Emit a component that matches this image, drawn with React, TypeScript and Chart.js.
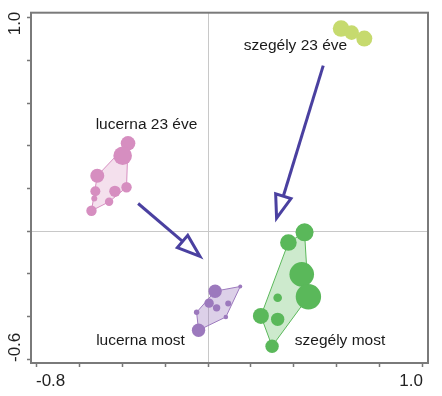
import React, { useEffect, useRef } from 'react';
import { Chart, registerables } from 'chart.js';

Chart.register(...registerables);

// ---- data (ordination scores) ----
const groupNames = ['lucerna 23 éve', 'lucerna most', 'szegély most', 'szegély 23 éve'];

const lucerna23X = [-0.372, -0.397, -0.515, -0.524, -0.529, -0.433, -0.379, -0.460, -0.542];
const lucerna23Y = [0.411, 0.353, 0.259, 0.186, 0.153, 0.186, 0.205, 0.137, 0.095];
const lucerna23R = [7.3, 9.3, 7, 5, 3, 5.7, 5.2, 4.2, 5.2];

const lucernaMostX = [0.033, 0.005, 0.040, 0.094, 0.150, -0.053, 0.083, -0.044];
const lucernaMostY = [-0.282, -0.338, -0.360, -0.340, -0.260, -0.381, -0.403, -0.465];
const lucernaMostR = [6.7, 4.7, 3.7, 3, 2, 2.7, 2.3, 6.7];

const szegelyMostX = [0.449, 0.374, 0.436, 0.467, 0.324, 0.246, 0.324, 0.298];
const szegelyMostY = [-0.006, -0.054, -0.203, -0.308, -0.313, -0.398, -0.414, -0.540];
const szegelyMostR = [9, 8.3, 12.3, 12.7, 4.3, 8, 6.7, 6.7];

const szegely23X = [0.619, 0.668, 0.727];
const szegely23Y = [0.949, 0.930, 0.902];
const szegely23R = [8.3, 7.3, 8];

// arrows: from old state to current state
const arrowFromX = [-0.325, 0.536];
const arrowFromY = [0.129, 0.775];
const arrowToX = [-0.037, 0.319];
const arrowToY = [-0.119, 0.060];

// text labels of groups
const labelText = ['szegély 23 éve', 'lucerna 23 éve', 'lucerna most', 'szegély most'];
const labelX = [0.407, -0.286, -0.314, 0.614];
const labelY = [0.870, 0.498, -0.516, -0.516];

// axes
const xTicks = [-0.8, -0.6, -0.4, -0.2, 0, 0.2, 0.4, 0.6, 0.8, 1.0];
const xTickLabels = ['-0.8', '', '', '', '', '', '', '', '', '1.0'];
const yTicks = [-0.6, -0.4, -0.2, 0, 0.2, 0.4, 0.6, 0.8, 1.0];
const yTickLabels = ['-0.6', '', '', '', '', '', '', '', '1.0'];
const xMin = -0.8233, xMax = 1.0233;
const yMin = -0.6186, yMax = 1.0233;

const FONT = '"Liberation Sans", Arial, sans-serif';

const pts = (xs: number[], ys: number[], rs: number[]) =>
  xs.map((x, i) => ({ x, y: ys[i], r: rs[i] }));

function hull(p: { x: number; y: number }[]) {
  const a = [...p].sort((m, n) => (m.x - n.x) || (m.y - n.y));
  const cross = (o: any, b: any, c: any) => (b.x - o.x) * (c.y - o.y) - (b.y - o.y) * (c.x - o.x);
  const lower: any[] = [];
  for (const q of a) {
    while (lower.length >= 2 && cross(lower[lower.length - 2], lower[lower.length - 1], q) <= 0) lower.pop();
    lower.push(q);
  }
  const upper: any[] = [];
  for (let i = a.length - 1; i >= 0; i--) {
    const q = a[i];
    while (upper.length >= 2 && cross(upper[upper.length - 2], upper[upper.length - 1], q) <= 0) upper.pop();
    upper.push(q);
  }
  upper.pop();
  lower.pop();
  return lower.concat(upper);
}

const hullPlugin = {
  id: 'hulls',
  beforeDatasetsDraw(chart: any) {
    const { ctx, scales, chartArea } = chart;
    ctx.save();
    ctx.beginPath();
    ctx.rect(chartArea.left, chartArea.top, chartArea.right - chartArea.left, chartArea.bottom - chartArea.top);
    ctx.clip();
    chart.data.datasets.forEach((ds: any) => {
      if (!ds.hullFill) return;
      const pp = ds.data.map((d: any) => ({ x: scales.x.getPixelForValue(d.x), y: scales.y.getPixelForValue(d.y) }));
      const h = hull(pp);
      ctx.beginPath();
      h.forEach((q: any, i: number) => (i ? ctx.lineTo(q.x, q.y) : ctx.moveTo(q.x, q.y)));
      ctx.closePath();
      ctx.fillStyle = ds.hullFill;
      ctx.fill();
      ctx.strokeStyle = ds.backgroundColor;
      ctx.lineWidth = 1;
      ctx.stroke();
    });
    ctx.restore();
  },
};

const overlayPlugin = {
  id: 'overlay',
  afterDatasetsDraw(chart: any) {
    const { ctx, scales, chartArea } = chart;
    const sx = scales.x, sy = scales.y;
    ctx.save();
    // arrows
    ctx.strokeStyle = '#4a40a0';
    ctx.lineWidth = 3;
    ctx.lineJoin = 'miter';
    for (let i = 0; i < arrowFromX.length; i++) {
      const x0 = sx.getPixelForValue(arrowFromX[i]);
      const y0 = sy.getPixelForValue(arrowFromY[i]);
      const x1 = sx.getPixelForValue(arrowToX[i]);
      const y1 = sy.getPixelForValue(arrowToY[i]);
      const len = Math.hypot(x1 - x0, y1 - y0);
      const ux = (x1 - x0) / len, uy = (y1 - y0) / len;
      const hl = 23, hw = 8;
      const bx = x1 - ux * hl, by = y1 - uy * hl;
      ctx.beginPath();
      ctx.moveTo(x0, y0);
      ctx.lineTo(bx, by);
      ctx.stroke();
      ctx.beginPath();
      ctx.moveTo(x1, y1);
      ctx.lineTo(bx - uy * hw, by + ux * hw);
      ctx.lineTo(bx + uy * hw, by - ux * hw);
      ctx.closePath();
      ctx.fillStyle = '#ffffff';
      ctx.fill();
      ctx.stroke();
    }
    // group labels
    ctx.fillStyle = '#1a1a1a';
    ctx.font = '15.5px ' + FONT;
    ctx.textAlign = 'center';
    ctx.textBaseline = 'middle';
    labelText.forEach((t, i) => {
      ctx.fillText(t, sx.getPixelForValue(labelX[i]), sy.getPixelForValue(labelY[i]));
    });
    // frame
    ctx.strokeStyle = '#7a7a7a';
    ctx.lineWidth = 2;
    ctx.strokeRect(chartArea.left, chartArea.top, chartArea.right - chartArea.left, chartArea.bottom - chartArea.top);
    // y tick labels (rotated, inner-aligned)
    ctx.fillStyle = '#222222';
    ctx.font = '17px ' + FONT;
    ctx.textBaseline = 'middle';
    const last = yTicks.length - 1;
    yTickLabels.forEach((t, i) => {
      if (!t) return;
      const py = sy.getPixelForValue(yTicks[i]);
      ctx.save();
      if (i === 0) {
        ctx.translate(15, py + 3);
        ctx.textAlign = 'left';
      } else if (i === last) {
        ctx.translate(15, py - 6);
        ctx.textAlign = 'right';
      } else {
        ctx.translate(15, py);
        ctx.textAlign = 'center';
      }
      ctx.rotate(-Math.PI / 2);
      ctx.fillText(t, 0, 0);
      ctx.restore();
    });
    ctx.restore();
  },
};

export default function App() {
  const ref = useRef<HTMLCanvasElement>(null);
  useEffect(() => {
    if (!ref.current) return;
    const zeroGrid = (c: any) => (c.tick && Math.abs(c.tick.value) < 1e-9 ? '#c8c8c8' : 'rgba(0,0,0,0)');
    const chart = new Chart(ref.current, {
      type: 'bubble',
      data: {
        datasets: [
          { label: groupNames[0], data: pts(lucerna23X, lucerna23Y, lucerna23R), backgroundColor: '#d68ec0', hullFill: 'rgba(214,142,192,0.28)' } as any,
          { label: groupNames[1], data: pts(lucernaMostX, lucernaMostY, lucernaMostR), backgroundColor: '#9c79bd', hullFill: 'rgba(156,121,189,0.35)' } as any,
          { label: groupNames[2], data: pts(szegelyMostX, szegelyMostY, szegelyMostR), backgroundColor: '#5ab85a', hullFill: 'rgba(90,184,90,0.3)' } as any,
          { label: groupNames[3], data: pts(szegely23X, szegely23Y, szegely23R), backgroundColor: '#c6da6e' } as any,
        ],
      },
      options: {
        animation: false,
        responsive: false,
        devicePixelRatio: 1,
        events: [],
        layout: { padding: { top: 10, right: 14, left: 0, bottom: 0 } },
        elements: { point: { borderWidth: 0, hoverRadius: 0, hoverBorderWidth: 0 } },
        plugins: { legend: { display: false }, tooltip: { enabled: false } },
        scales: {
          x: {
            type: 'linear',
            position: 'bottom',
            min: xMin,
            max: xMax,
            afterBuildTicks: (s: any) => { s.ticks = xTicks.map((v) => ({ value: v })); },
            afterFit: (s: any) => { s.height = 33; },
            border: { display: false },
            grid: { color: zeroGrid, lineWidth: 1, drawTicks: true, tickLength: 4, tickColor: '#777777', tickWidth: 1.5 },
            ticks: {
              autoSkip: false,
              maxRotation: 0,
              minRotation: 0,
              align: 'inner',
              padding: 4,
              color: '#222222',
              font: { family: FONT, size: 17 },
              callback: (_v: any, i: number) => xTickLabels[i],
            },
          },
          y: {
            type: 'linear',
            position: 'left',
            min: yMin,
            max: yMax,
            afterBuildTicks: (s: any) => { s.ticks = yTicks.map((v) => ({ value: v })); },
            afterFit: (s: any) => { s.width = 31; },
            border: { display: false },
            grid: { color: zeroGrid, lineWidth: 1, drawTicks: true, tickLength: 4, tickColor: '#777777', tickWidth: 1.5 },
            ticks: { display: false },
          },
        },
      } as any,
      plugins: [hullPlugin, overlayPlugin],
    });
    return () => chart.destroy();
  }, []);
  return (
    <div style={{ position: 'fixed', left: 0, top: 0, width: 442, height: 396, background: '#fff' }}>
      <canvas ref={ref} width={442} height={396} style={{ display: 'block' }} />
    </div>
  );
}
